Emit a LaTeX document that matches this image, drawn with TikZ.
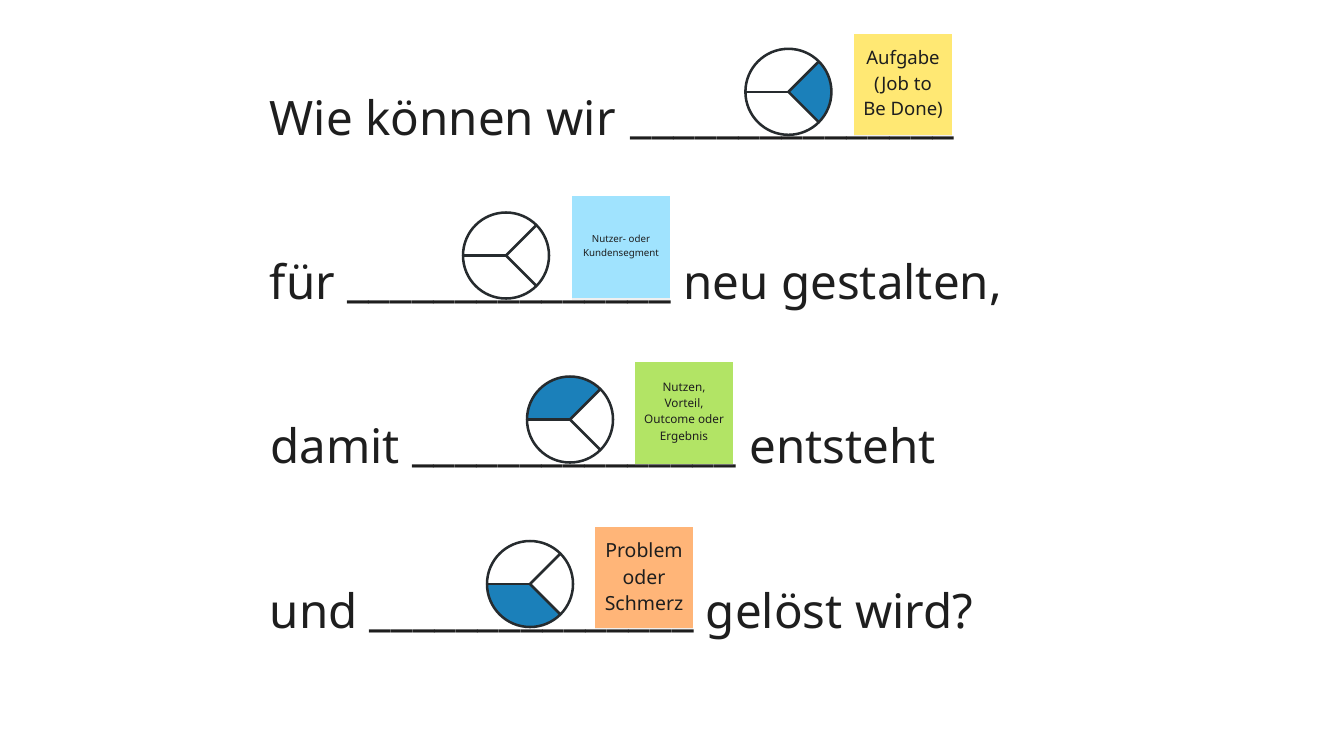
\documentclass[tikz,border=0pt]{standalone}
\usepackage{fontspec}
\setmainfont{Noto Sans}
\usetikzlibrary{calc,shadows}
\definecolor{pieBlue}{HTML}{1B80BA}
\definecolor{pieLine}{HTML}{262B2E}
\definecolor{textDark}{HTML}{1E1E1E}
\definecolor{noteYellow}{HTML}{FFE873}
\definecolor{noteBlue}{HTML}{A0E3FE}
\definecolor{noteGreen}{HTML}{B2E465}
\definecolor{noteOrange}{HTML}{FFB578}
\def\blank{\raisebox{2pt}{\fontsize{36.45pt}{45pt}\selectfont\_\_\_\_\_\_\_\_\_\_\_\_\_\_\_}}
% #1 name, #2 center
\def\placePie#1#2{%
\coordinate (#1) at #2;
\coordinate (#1L) at ($(#1)+(-43,0)$);
\coordinate (#1U) at ($(#1)+(30.4,-30.4)$);
\coordinate (#1D) at ($(#1)+(30.4,30.4)$);
}
\def\drawPie#1{%
\draw[pieEdge] (#1L) -- (#1);
\draw[pieEdge] (#1U) -- (#1) -- (#1D);
\draw[pieEdge] (#1) circle (43);
}
\begin{document}
\begin{tikzpicture}[x=0.75pt, y=-0.75pt]

% styles
\tikzstyle{textLine}=[anchor=base west, inner sep=0pt, text=textDark, font=\fontsize{35.6pt}{45pt}\selectfont]
\tikzstyle{note}=[rectangle, minimum width=73.5pt, minimum height=76pt, inner sep=0pt, align=center, text=textDark, drop shadow={shadow xshift=0pt, shadow yshift=-1.5pt, opacity=0.12}]
\tikzstyle{pieEdge}=[line width=1.9pt, color=pieLine, line join=round]
\tikzstyle{pieFill}=[fill=pieBlue]

\useasboundingbox (0,0) rectangle (1333,750);

% sentences
\node[textLine] (line1) at (269.5,135.5) {Wie können wir\kern11.4pt\blank};
\node[textLine] (line2) at (269.5,299.5) {für \blank{} neu gestalten,};
\node[textLine] (line3) at (270,463.5) {damit \blank{}\kern1pt{} entsteht};
\node[textLine] (line4) at (269.5,628.5) {und \blank{} gelöst wird?};

% pies
\placePie{pieA}{(788.4,91.8)}
\placePie{pieB}{(506,255.5)}
\placePie{pieC}{(570,419.5)}
\placePie{pieD}{(530,584)}

\fill[pieFill] (pieAU) arc[start angle=-45, end angle=45, radius=43] -- (pieA) -- cycle;
\fill[pieFill] (pieCL) arc[start angle=180, end angle=315, radius=43] -- (pieC) -- cycle;
\fill[pieFill] (pieDL) arc[start angle=180, end angle=45, radius=43] -- (pieD) -- cycle;

\drawPie{pieA}
\drawPie{pieB}
\drawPie{pieC}
\drawPie{pieD}

% notes
\node[note, fill=noteYellow, font=\fontsize{13.9pt}{19pt}\selectfont] (noteA) at (903,84.5) {Aufgabe\\(Job to\\Be Done)};
\node[note, fill=noteBlue, font=\fontsize{7.3pt}{10pt}\selectfont] (noteB) at (621,247) {Nutzer- oder\\Kundensegment};
\node[note, fill=noteGreen, font=\fontsize{8.8pt}{12.2pt}\selectfont] (noteC) at (684,413) {Nutzen,\\Vorteil,\\Outcome oder\\Ergebnis};
\node[note, fill=noteOrange, font=\fontsize{14.6pt}{20pt}\selectfont] (noteD) at (644,577.5) {\raisebox{1pt}{Problem}\\\raisebox{1pt}{oder}\\\raisebox{1pt}{Schmerz}};

\end{tikzpicture}
\end{document}
